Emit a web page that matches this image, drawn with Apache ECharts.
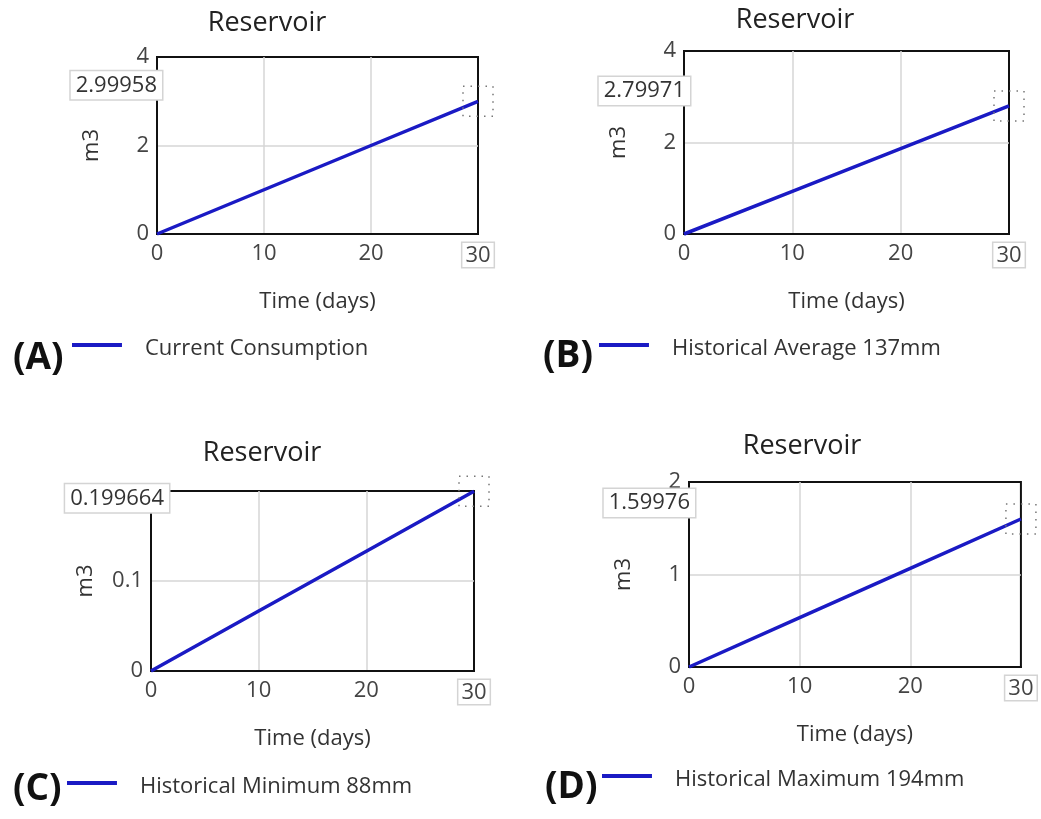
<!DOCTYPE html>
<html>
<head>
<meta charset="utf-8">
<script src="https://cdn.jsdelivr.net/npm/echarts@6/dist/echarts.min.js"></script>
<style>
  html, body { margin: 0; padding: 0; background: #fff; }
  #chart { width: 1041px; height: 819px; }
</style>
</head>
<body>
<div id="chart"></div>
<script>
// time axis (days)
const days = [0, 10, 20, 30];
// reservoir volume (m3) for each scenario
const currentConsumption = [0, 1.0, 2.0, 2.99958];
const historicalAverage = [0, 0.933, 1.866, 2.79971];
const historicalMinimum = [0, 0.0666, 0.1331, 0.199664];
const historicalMaximum = [0, 0.533, 1.066, 1.59976];

const seriesNames = ['Current Consumption', 'Historical Average 137mm', 'Historical Minimum 88mm', 'Historical Maximum 194mm'];
const panelTags = ['(A)', '(B)', '(C)', '(D)'];
const yMax = [4, 4, 0.2, 2];
const yStep = [2, 2, 0.1, 1];

const FONT = 'Open Sans';
const LINE = '#1a1ac4';
// legend stroke sits a little above the text middle
const LEGEND_ICON = 'path://M0,0H50V4H0ZM0,12H0.01V12.01H0Z';

// panel layout (plot areas etc.)
const panels = [
  { grid: { left: 157, top: 57, width: 321, height: 177 }, title: [262, 5], tag: [8, 335], legend: [72, 338], tagOff: [5, -16], maxLabel: true },
  { grid: { left: 684, top: 51, width: 325, height: 183 }, title: [790, 2], tag: [538, 333], legend: [599, 338], tagOff: [6, -15], maxLabel: true },
  { grid: { left: 151, top: 491, width: 323, height: 180 }, title: [257, 435], tag: [8, 766], legend: [67, 776], tagOff: [18, 7], maxLabel: false },
  { grid: { left: 689, top: 482, width: 335, height: 185 }, title: [797, 428], tag: [540, 764], legend: [602, 769], tagOff: [6, -16], maxLabel: true }
];

const values = [currentConsumption, historicalAverage, historicalMinimum, historicalMaximum];

const option = {
  backgroundColor: '#fff',
  animation: false,
  textStyle: { fontFamily: FONT },
  title: [],
  legend: [],
  grid: [],
  xAxis: [],
  yAxis: [],
  series: []
};

panels.forEach(function (p, i) {
  option.grid.push(Object.assign({ show: true, borderColor: '#111', borderWidth: 2, backgroundColor: 'transparent' }, p.grid));

  option.title.push({
    text: 'Reservoir', left: p.title[0], top: p.title[1], textAlign: 'center',
    textStyle: { fontFamily: FONT, fontSize: 27, fontWeight: 'normal', color: '#222' }
  });
  option.title.push({
    text: panelTags[i], left: p.tag[0], top: p.tag[1],
    textStyle: { fontFamily: FONT, fontSize: 37, fontWeight: 'bold', color: '#111' }
  });

  option.legend.push({
    data: [seriesNames[i]], left: p.legend[0], top: p.legend[1],
    icon: LEGEND_ICON, itemWidth: 50, itemHeight: 12, padding: 0,
    textStyle: { fontFamily: FONT, fontSize: 22, color: '#333', padding: [0, 0, 0, 18] }
  });

  option.xAxis.push({
    type: 'value', gridIndex: i, min: 0, max: 30, interval: 10,
    name: 'Time (days)', nameLocation: 'middle', nameGap: 57,
    nameTextStyle: { fontFamily: FONT, fontSize: 22, color: '#333' },
    axisLine: { lineStyle: { color: '#111', width: 2 } },
    axisTick: { show: false },
    splitLine: { showMinLine: false, showMaxLine: false, lineStyle: { color: '#d6d6d6', width: 1.5 } },
    axisLabel: {
      fontFamily: FONT, fontSize: 22, color: '#444', margin: 9,
      formatter: function (v) { return v === 30 ? '{b|30}' : String(v); },
      rich: { b: { fontFamily: FONT, fontSize: 22, color: '#444', borderColor: '#d4d4d4', borderWidth: 1.5, padding: [2, 3, 0, 3], backgroundColor: '#fff' } }
    }
  });

  option.yAxis.push({
    type: 'value', gridIndex: i, min: 0, max: yMax[i], interval: yStep[i],
    name: 'm3', nameLocation: 'middle', nameGap: 54,
    nameTextStyle: { fontFamily: FONT, fontSize: 22, color: '#333' },
    axisLine: { lineStyle: { color: '#111', width: 2 } },
    axisTick: { show: false },
    splitLine: { showMinLine: false, showMaxLine: false, lineStyle: { color: '#d6d6d6', width: 1.5 } },
    axisLabel: { fontFamily: FONT, fontSize: 22, color: '#444', margin: 8, showMaxLabel: p.maxLabel }
  });

  const vals = values[i];
  const last = vals[vals.length - 1];
  option.series.push({
    name: seriesNames[i], type: 'line', xAxisIndex: i, yAxisIndex: i,
    data: days.map(function (d, k) { return [d, vals[k]]; }),
    symbol: 'none', clip: false,
    lineStyle: { color: LINE, width: 3.5 },
    itemStyle: { color: LINE },
    markPoint: {
      silent: true,
      data: [
        {
          coord: [0, last], symbol: 'circle', symbolSize: 1,
          itemStyle: { color: 'transparent' },
          label: {
            show: true, position: 'inside', align: 'right', verticalAlign: 'middle',
            offset: p.tagOff, formatter: String(last),
            fontFamily: FONT, fontSize: 22, color: '#333',
            backgroundColor: '#fff', borderColor: '#d4d4d4', borderWidth: 1.5, padding: [4, 5, 2, 5]
          }
        },
        {
          coord: [30, last], symbol: 'rect', symbolSize: [30, 30],
          itemStyle: { color: 'transparent', borderColor: '#777', borderWidth: 1.5, borderType: [1.5, 6] },
          label: { show: false }
        }
      ]
    }
  });
});

const chart = echarts.init(document.getElementById('chart'), null, { renderer: 'canvas' });
chart.setOption(option);
</script>
</body>
</html>
